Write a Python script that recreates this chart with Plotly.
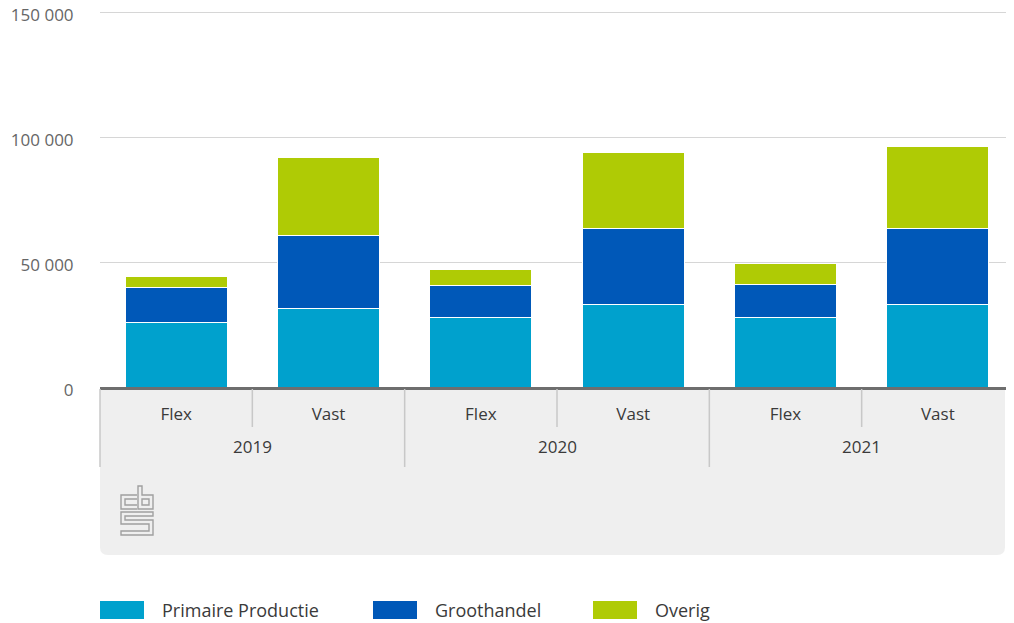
import plotly.graph_objects as go

# data
YEARS = ["2019", "2019", "2020", "2020", "2021", "2021"]
CONTRACT = ["Flex", "Vast", "Flex", "Vast", "Flex", "Vast"]

PRIMAIRE = [25800, 31400, 28000, 32900, 27800, 32900]
GROOTHANDEL = [14000, 29400, 12600, 30600, 13300, 30600]
OVERIG = [4600, 31100, 6600, 30500, 8300, 32700]

SERIES = [
    ("Primaire Productie", PRIMAIRE, "#00a1cd"),
    ("Groothandel", GROOTHANDEL, "#0058b8"),
    ("Overig", OVERIG, "#afcb05"),
]

Y_TICKS = [0, 50000, 100000, 150000]
Y_TOP = 151200   # a little headroom so the 150 000 grid line is kept

# the page body has an 8px margin, so the figure is laid out 8px up/left
OFF = 8
W, H = 1014 - OFF, 623 - OFF
PLOT_L, PLOT_R, PLOT_B = 100, 1014, 387          # window pixels
PX_PER_UNIT = (387 - 12) / 150000                # 150 000 grid sits at y=12
PLOT_T = PLOT_B - Y_TOP * PX_PER_UNIT
FONT = "Open Sans"


def px(x, y):
    """window pixel position -> paper coordinates"""
    return (x - PLOT_L) / (PLOT_R - PLOT_L), (PLOT_B - y) / (PLOT_B - PLOT_T)


def path(points, close=False):
    parts = []
    for i, (x, y) in enumerate(points):
        a, b = px(x, y)
        parts.append(f"{'M' if i == 0 else 'L'}{a:.5f},{b:.5f}")
    return " ".join(parts) + (" Z" if close else "")


categories = [f"{y} {c}" for y, c in zip(YEARS, CONTRACT)]

fig = go.Figure()
for name, values, color in SERIES:
    fig.add_trace(
        go.Bar(
            x=categories,
            y=values,
            name=name,
            marker={"color": color, "line": {"color": "white", "width": 1}},
            showlegend=False,
        )
    )

shapes = []
annotations = []

# grey panel under the axis, rounded bottom corners
r = 8
x0, x1, y0, y1 = 100, 1005, 387, 555
p0, p1, p2 = px(x0, y0), px(x1, y0), px(x1, y1 - r)
c1, e1 = px(x1, y1), px(x1 - r, y1)
s2, c2, e2 = px(x0 + r, y1), px(x0, y1), px(x0, y1 - r)
panel = (
    f"M{p0[0]},{p0[1]} L{p1[0]},{p1[1]} L{p2[0]},{p2[1]} "
    f"Q{c1[0]},{c1[1]} {e1[0]},{e1[1]} L{s2[0]},{s2[1]} "
    f"Q{c2[0]},{c2[1]} {e2[0]},{e2[1]} Z"
)
shapes.append(dict(type="path", xref="paper", yref="paper", path=panel,
                   fillcolor="#efefef", line={"width": 0}, layer="below"))

# dividers: long ones at year boundaries, short ones between Flex / Vast
n = len(CONTRACT)
step = (PLOT_R - PLOT_L) / n
for i in range(n):
    xb = PLOT_L + i * step
    bottom = 467 if i % 2 == 0 else 427
    shapes.append(dict(type="path", xref="paper", yref="paper",
                       path=path([(xb, 389), (xb, bottom)]),
                       line={"color": "#c8c8c8", "width": 1.5}))

# year labels centred under each pair of bars
_, year_y = px(0, 447)
for year in dict.fromkeys(YEARS):
    idx = [i for i, y in enumerate(YEARS) if y == year]
    annotations.append(dict(xref="x", yref="paper", x=sum(idx) / len(idx),
                            y=year_y, text=year, showarrow=False,
                            xanchor="center", yanchor="middle",
                            font={"family": FONT, "size": 17, "color": "#3a3a3a"}))

# cbs logo (approximation), local pixel coords from top-left (121, 486)
lx, ly = 121, 486
logo = [
    ([(16, 9), (0, 9), (0, 23), (16, 23)], False),
    ([(16, 13), (4, 13), (4, 19), (16, 19)], False),
    ([(17, 0), (21, 0), (21, 9), (32, 9), (32, 23), (17, 23)], True),
    ([(21, 13), (28, 13), (28, 19), (21, 19)], True),
    ([(32, 26), (0, 26), (0, 38), (28, 38), (28, 45), (0, 45), (0, 49),
      (32, 49), (32, 34), (4, 34), (4, 30), (32, 30)], True),
]
for poly, closed in logo:
    shapes.append(dict(type="path", xref="paper", yref="paper",
                       path=path([(lx + a, ly + b) for a, b in poly], closed),
                       line={"color": "#a0a0a0", "width": 1.4}))

# custom legend with wide swatches
legend_x = [100, 373, 593]
for (name, _, color), lx0 in zip(SERIES, legend_x):
    a0, b0 = px(lx0, 601)
    a1, b1 = px(lx0 + 44, 619)
    shapes.append(dict(type="rect", xref="paper", yref="paper",
                       x0=a0, x1=a1, y0=b1, y1=b0,
                       fillcolor=color, line={"width": 0}))
    tx, ty = px(lx0 + 60, 610)
    annotations.append(dict(xref="paper", yref="paper", x=tx, y=ty,
                            text=name, showarrow=False, xanchor="left",
                            yanchor="middle",
                            font={"family": FONT, "size": 18, "color": "#3a3a3a"}))

fig.update_layout(
    barmode="stack",
    bargap=0.33,
    width=W,
    height=H,
    margin={"l": PLOT_L - OFF, "r": W - (PLOT_R - OFF), "t": PLOT_T - OFF,
            "b": H - (PLOT_B - OFF), "autoexpand": False},
    plot_bgcolor="white",
    paper_bgcolor="white",
    separators=", ",
    font={"family": FONT, "size": 17, "color": "#3a3a3a"},
    shapes=shapes,
    annotations=annotations,
)
fig.update_yaxes(
    range=[0, Y_TOP],
    tickvals=Y_TICKS,
    tickformat=",d",
    showgrid=True,
    gridcolor="#d6d6d6",
    gridwidth=1,
    zeroline=False,
    ticks="outside",
    ticklen=22,
    tickcolor="rgba(0,0,0,0)",
    ticklabelshift=3,
    ticklabeloverflow="allow",
    tickfont={"family": FONT, "size": 17, "color": "#666666"},
)
fig.update_xaxes(
    type="category",
    tickvals=categories,
    ticktext=CONTRACT,
    showline=True,
    linecolor="#6e6e6e",
    linewidth=3,
    ticks="outside",
    ticklen=10,
    tickcolor="rgba(0,0,0,0)",
    tickfont={"family": FONT, "size": 17, "color": "#3a3a3a"},
)

fig.write_html("out.html")
